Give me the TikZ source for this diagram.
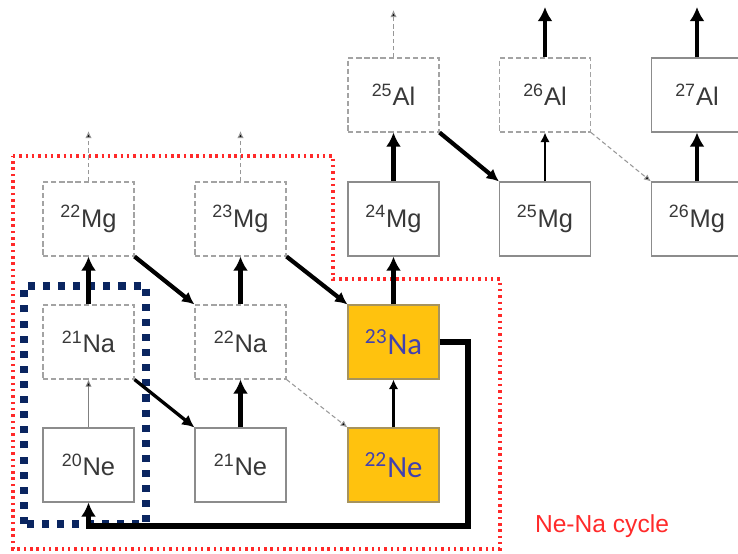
\documentclass[tikz,border=0pt]{standalone}
\usepackage{fontspec}
\setmainfont{Liberation Sans}
\newfontfamily\calfont{Carlito}
\usetikzlibrary{arrows.meta,positioning}
\usepackage{xcolor}
\definecolor{boxgray}{HTML}{8C8C8C}
\definecolor{txtgray}{HTML}{383838}
\definecolor{gold}{HTML}{FFC20E}
\definecolor{isoblue}{HTML}{4141B0}
\definecolor{cyclered}{HTML}{FF2A2A}
\definecolor{navy}{HTML}{0A2560}

\begin{document}
\begin{tikzpicture}[
    iso/.style={minimum width=1.82cm, minimum height=1.48cm, inner sep=0pt, align=center,
        font=\fontsize{14.5}{16}\selectfont, text=txtgray},
    sbox/.style={iso, draw=boxgray, line width=0.6pt},
    dbox/.style={iso, draw=boxgray!80, line width=0.6pt, dash pattern=on 3pt off 1.6pt},
    ybox/.style={iso, draw=gray!70!gold, line width=0.6pt, fill=gold, text=isoblue,
        font=\calfont\fontsize{17.5}{19}\selectfont},
    faint/.style={draw=gray, line width=0.6pt, -{Latex[length=4pt,width=3.6pt,fill=black]}},
    dsh/.style={faint, draw=boxgray!90, dash pattern=on 2.5pt off 1.6pt},
    mid/.style={line width=1.2pt, -{Latex[length=5.5pt,width=5.5pt]}},
    heavy/.style={line width=2.7pt, -{Latex[length=8pt,width=8.5pt]}},
    diag/.style={line width=1.9pt, -{Latex[length=7pt,width=7pt]}}
]
    \useasboundingbox (0,0) rectangle (14.76,11.06);
    \clip (0,0) rectangle (14.76,11.06);

    % Ne-Na cycle region
    \draw[cyclered, line width=1.8pt, dash pattern=on 1.4pt off 2.2pt]
        (0.26,7.94) -- (6.66,7.94) -- (6.66,5.48) -- (10.0,5.48) -- (10.0,0.08) -- (0.26,0.08) -- cycle;
    \node[text=cyclered, font=\fontsize{14}{16}\selectfont] (cyc) at (12.04,0.54) {Ne-Na cycle};

    % nuclei
    \node[dbox] (mg22) at (1.77,6.68) {\textsuperscript{22}Mg};
    \node[dbox] (mg23) at (4.81,6.68) {\textsuperscript{23}Mg};
    \node[dbox] (na21) at (1.77,4.22) {\textsuperscript{21}Na};
    \node[dbox] (na22) at (4.81,4.22) {\textsuperscript{22}Na};
    \node[sbox] (ne20) at (1.77,1.76) {\textsuperscript{20}Ne};
    \node[sbox] (ne21) at (4.81,1.76) {\textsuperscript{21}Ne};
    \node[ybox] (na23) at (7.87,4.22) {\textsuperscript{23}Na};
    \node[ybox] (ne22) at (7.87,1.76) {\textsuperscript{22}Ne};
    \node[sbox] (mg24) at (7.87,6.68) {\textsuperscript{24}Mg};
    \node[sbox] (mg25) at (10.9,6.68) {\textsuperscript{25}Mg};
    \node[sbox] (mg26) at (13.94,6.68) {\textsuperscript{26}Mg};
    \node[dbox] (al25) at (7.87,9.16) {\textsuperscript{25}Al};
    \node[dbox] (al26) at (10.9,9.16) {\textsuperscript{26}Al};
    \node[sbox] (al27) at (13.94,9.16) {\textsuperscript{27}Al};

    % blue box round 20Ne and 21Na
    \draw[navy, line width=4pt, dash pattern=on 4pt off 4.6pt] (0.48,0.58) rectangle (2.92,5.34);

    % free ends of the upward arrows
    \coordinate (mg22up) at (1.77,8.44);
    \coordinate (mg23up) at (4.81,8.44);
    \coordinate (al25up) at (7.87,10.86);
    \coordinate (al26up) at (10.9,10.92);
    \coordinate (al27up) at (13.94,10.92);
    \coordinate (loopR) at (9.36,0.54);

    \draw[faint] (ne20) -- (na21);
    \draw[heavy] (na21) -- (mg22);
    \draw[diag] (na21.south east) -- (ne21.north west);
    \draw[diag, line width=2.4pt] (mg22.south east) -- (na22.north west);
    \draw[dsh] (mg22) -- (mg22up);
    \draw[dsh] (mg23) -- (mg23up);
    \draw[heavy] (ne21) -- (na22);
    \draw[heavy] (na22) -- (mg23);
    \draw[dsh] (na22.south east) -- (ne22.north west);
    \draw[diag, line width=2.4pt] (mg23.south east) -- (na23.north west);
    \draw[mid] (ne22) -- (na23);
    \draw[heavy] (na23) -- (mg24);
    \draw[line width=3.2pt, -{Latex[length=8pt,width=8.5pt]}]
        (na23.east) -- (loopR |- na23.east) -- (loopR) -| (ne20.south);
    \draw[heavy] (mg24) -- (al25);
    \draw[diag, line width=2.4pt] (al25.south east) -- (mg25.north west);
    \draw[dsh] (al25) -- (al25up);
    \draw[mid] (mg25) -- (al26);
    \draw[dsh] (al26.south east) -- (mg26.north west);
    \draw[heavy] (al26) -- (al26up);
    \draw[heavy, line width=2.2pt] (mg26) -- (al27);
    \draw[heavy] (al27) -- (al27up);
\end{tikzpicture}
\end{document}
